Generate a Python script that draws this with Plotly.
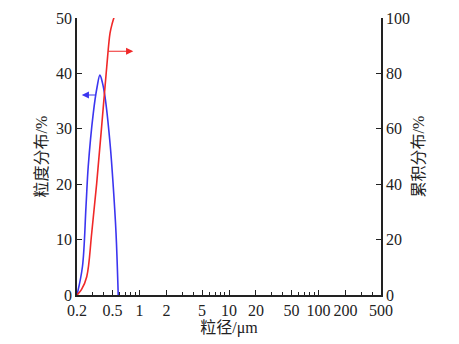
import math
import plotly.graph_objects as go

# particle size (um) and distributions
size_freq = [0.2, 0.23, 0.252, 0.267, 0.304, 0.335, 0.361, 0.385, 0.411, 0.468, 0.509, 0.546, 0.578]
freq = [0, 5.1, 15.9, 23.2, 32.8, 37.5, 39.7, 38.3, 35.8, 27.4, 19.5, 11.2, 0]

size_cum = [0.2, 0.225, 0.257, 0.292, 0.332, 0.377, 0.43, 0.468, 0.495, 0.522]
cum = [0, 2.0, 6.6, 22.3, 40.3, 60.8, 82.4, 94.5, 98.0, 100.5]

x_ticks = [0.2, 0.5, 1, 2, 5, 10, 20, 50, 100, 200, 500]
x_tick_text = ["0.2", "0.5", "1", "2", "5", "10", "20", "50", "100", "200", "500"]
x_minor = [0.3, 0.4, 0.6, 0.7, 0.8, 0.9, 3, 4, 6, 7, 8, 9, 30, 40, 60, 70, 80, 90, 300, 400]

blue = "#3b35f0"
red = "#f02828"
font = "Liberation Serif, Times New Roman, serif"
cjk = "Liberation Serif, Noto Sans CJK SC, serif"

fig = go.Figure()
fig.add_trace(go.Scatter(x=size_freq, y=freq, mode="lines", line=dict(color=blue, width=1.6, shape="spline"),
                         yaxis="y", showlegend=False))
fig.add_trace(go.Scatter(x=size_cum, y=cum, mode="lines", line=dict(color=red, width=1.6, shape="spline"),
                         yaxis="y2", showlegend=False))

# arrows
fig.add_annotation(x=math.log10(0.851), y=44.0, ax=math.log10(0.43), ay=44.0, xref="x", yref="y",
                   axref="x", ayref="y", text="", showarrow=True, arrowhead=2, arrowsize=1.2,
                   arrowwidth=1.2, arrowcolor=red)
fig.add_annotation(x=math.log10(0.226), y=36.1, ax=math.log10(0.332), ay=36.1, xref="x", yref="y",
                   axref="x", ayref="y", text="", showarrow=True, arrowhead=2, arrowsize=1.2,
                   arrowwidth=1.2, arrowcolor=blue)

fig.update_layout(
    width=459, height=344,
    margin=dict(l=69, r=86, t=10, b=57),
    plot_bgcolor="white", paper_bgcolor="white",
    font=dict(family=font, size=16, color="#222"),
    xaxis=dict(type="log", range=[math.log10(0.2), math.log10(500)], automargin=False,
               tickvals=x_ticks, ticktext=x_tick_text, ticks="inside", ticklen=5,
               tickcolor="#222", showline=True, linecolor="#222", linewidth=1.5,
               showgrid=False, zeroline=False,
               minor=dict(tickvals=x_minor, ticks="inside", ticklen=3, tickcolor="#222"),
               title=dict(text="粒径/μm", font=dict(family=cjk, size=16), standoff=2)),
    yaxis=dict(range=[0, 50], tickvals=[0, 10, 20, 30, 40, 50], ticks="inside", ticklen=5,
               automargin=False,
               tickcolor="#222", showline=True, linecolor="#222", linewidth=1.5,
               showgrid=False, zeroline=False,
               title=dict(text="粒度分布/%", font=dict(family=cjk, size=16), standoff=4)),
    yaxis2=dict(range=[0, 100], tickvals=[0, 20, 40, 60, 80, 100], overlaying="y", side="right",
                automargin=False,
                ticks="inside", ticklen=5, tickcolor="#222", showline=True, linecolor="#222",
                linewidth=1.5, showgrid=False, zeroline=False,
                title=dict(text="累积分布/%", font=dict(family=cjk, size=16), standoff=4)),
)

fig.write_html("out.html")
